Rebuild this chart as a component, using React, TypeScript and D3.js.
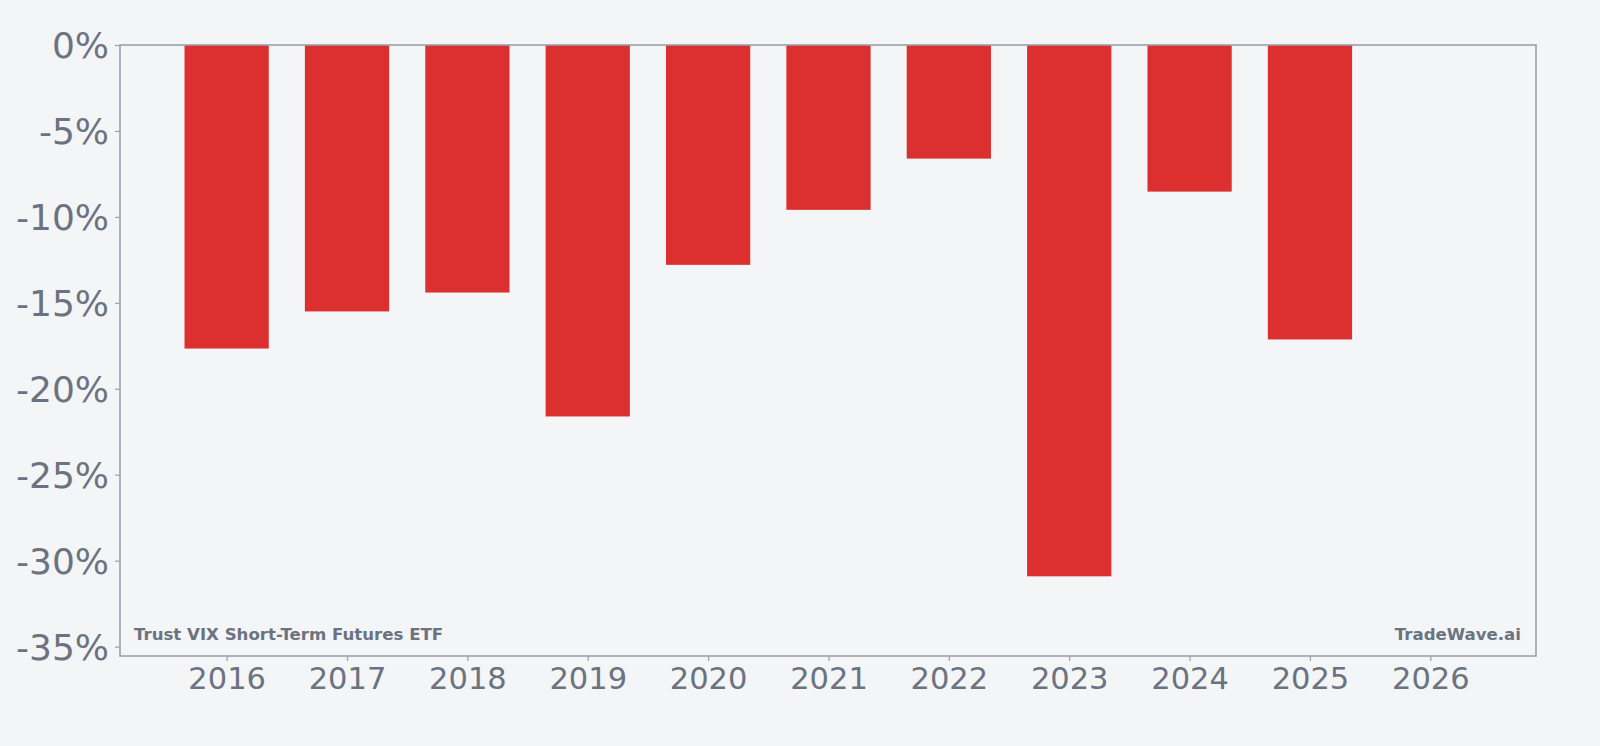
import React, { useEffect, useRef } from "react";
import * as d3 from "d3";

// yearly returns (%) for the ETF
const years = [2016, 2017, 2018, 2019, 2020, 2021, 2022, 2023, 2024, 2025];
const returns = [-17.66, -15.5, -14.4, -21.61, -12.79, -9.59, -6.61, -30.91, -8.53, -17.13];
const xTicks = [2016, 2017, 2018, 2019, 2020, 2021, 2022, 2023, 2024, 2025, 2026];
const yTicks = [0, -5, -10, -15, -20, -25, -30, -35];

const WIDTH = 1600;
const HEIGHT = 746;
const BG = "#f4f5f7";
const BAR = "#dc3030";
const TEXT = "#6b7280";
const AXIS = "#9ca0a8";
const FONT = "'DejaVu Sans', sans-serif";

const App: React.FC = () => {
  const svgRef = useRef<SVGSVGElement | null>(null);

  useEffect(() => {
    const svg = d3.select(svgRef.current);
    svg.selectAll("*").remove();

    const margin = { top: 45, right: 64, bottom: 90, left: 120 };
    const innerWidth = WIDTH - margin.left - margin.right;
    const innerHeight = HEIGHT - margin.top - margin.bottom;

    svg.append("rect").attr("width", WIDTH).attr("height", HEIGHT).attr("fill", BG);

    const g = svg.append("g").attr("transform", `translate(${margin.left},${margin.top})`);

    const x = d3.scaleLinear().domain([2015.114, 2026.878]).range([0, innerWidth]);
    const minY = d3.min(returns) ?? 0;
    const y = d3.scaleLinear().domain([minY * 1.15, 0]).range([innerHeight, 0]);

    const barW = (x(2017) - x(2016)) * 0.7;

    g.selectAll(".bar")
      .data(years.map((yr, i) => ({ yr, v: returns[i] })))
      .join("rect")
      .attr("class", "bar")
      .attr("x", d => x(d.yr) - barW / 2)
      .attr("y", y(0))
      .attr("width", barW)
      .attr("height", d => y(d.v) - y(0))
      .attr("fill", BAR);

    // frame
    g.append("rect")
      .attr("width", innerWidth)
      .attr("height", innerHeight)
      .attr("fill", "none")
      .attr("stroke", AXIS)
      .attr("stroke-width", 1.6);

    const xAxis = g.append("g")
      .attr("transform", `translate(0,${innerHeight})`)
      .call(d3.axisBottom(x).tickValues(xTicks).tickFormat(d3.format("d")).tickSize(5).tickPadding(6));
    xAxis.select(".domain").remove();
    xAxis.selectAll(".tick line").attr("stroke", AXIS).attr("stroke-width", 1.2);
    xAxis.selectAll("text")
      .attr("fill", TEXT)
      .style("font-size", "30.5px")
      .style("font-family", FONT);

    const yAxis = g.append("g")
      .call(d3.axisLeft(y).tickValues(yTicks).tickFormat(d => `${d}%`).tickSize(5).tickPadding(6));
    yAxis.select(".domain").remove();
    yAxis.selectAll(".tick line").attr("stroke", AXIS).attr("stroke-width", 1.2);
    yAxis.selectAll("text")
      .attr("fill", TEXT)
      .attr("dy", "0.36em")
      .style("font-size", "36px")
      .style("font-family", FONT);

    g.append("text")
      .attr("x", 14)
      .attr("y", innerHeight - 16)
      .attr("fill", TEXT)
      .style("font-size", "16.6px")
      .style("font-weight", "bold")
      .style("font-family", FONT)
      .text("Trust VIX Short-Term Futures ETF");

    g.append("text")
      .attr("x", innerWidth - 15)
      .attr("y", innerHeight - 16)
      .attr("text-anchor", "end")
      .attr("fill", TEXT)
      .style("font-size", "16.6px")
      .style("font-weight", "bold")
      .style("font-family", FONT)
      .text("TradeWave.ai");
  }, []);

  return (
    <div style={{ position: "fixed", left: 0, top: 0, width: WIDTH, height: HEIGHT, background: BG }}>
      <svg ref={svgRef} width={WIDTH} height={HEIGHT} style={{ display: "block" }} />
    </div>
  );
};

export default App;
